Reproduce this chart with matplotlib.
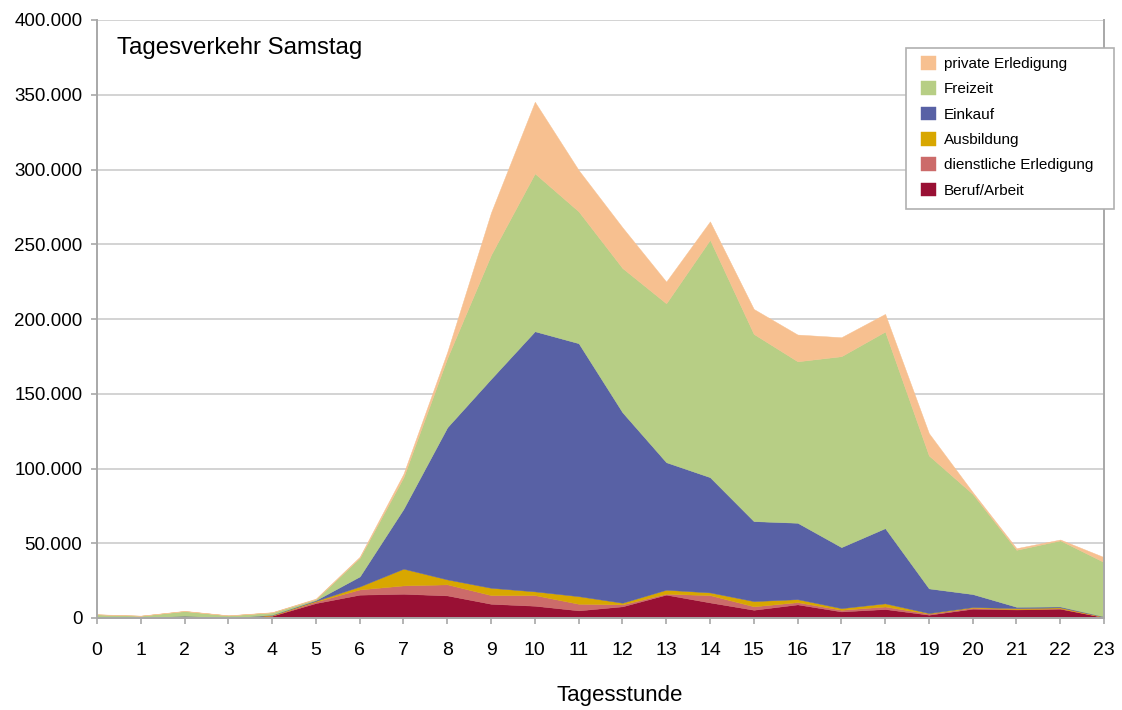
import matplotlib
matplotlib.use("Agg")
import matplotlib.pyplot as plt
from matplotlib.patches import Rectangle
from matplotlib.ticker import FuncFormatter, MultipleLocator

plt.rcParams['font.family'] = ['Liberation Sans', 'DejaVu Sans']

hours = list(range(24))

beruf = [0, 0, 800, 0, 1500, 10000, 15600, 16200, 15100, 9500, 8200, 5100,
         7800, 15600, 10400, 5500, 9100, 4400, 6000, 2200, 6200, 5700, 6200, 500]
dienstlich = [0, 0, 100, 0, 200, 1000, 3500, 5600, 7400, 5800, 7100, 4400,
              1300, 600, 4900, 2300, 1500, 1100, 1700, 700, 700, 200, 300, 200]
ausbildung = [0, 0, 600, 0, 300, 500, 2000, 11200, 3300, 4900, 2500, 5100,
              1100, 2700, 1800, 3500, 2000, 1100, 2100, 400, 400, 700, 600, 200]
einkauf = [0, 0, 0, 0, 200, 500, 6700, 40000, 101800, 139800, 174000, 169200,
           127400, 85300, 77100, 53500, 51100, 40800, 50300, 16500, 8700, 900, 600, 100]
freizeit = [2400, 1500, 3100, 1700, 1500, 600, 12500, 21200, 46400, 83000, 105600, 88200,
            96500, 106300, 158800, 125200, 108000, 127700, 131500, 88900, 67000, 38100, 44200, 36400]
privat = [100, 100, 200, 100, 200, 400, 700, 2300, 4000, 28300, 47900, 27600,
          27200, 14500, 12300, 16700, 17900, 12700, 11800, 14900, 1200, 1100, 600, 3300]

series = [beruf, dienstlich, ausbildung, einkauf, freizeit, privat]
labels = ["Beruf/Arbeit", "dienstliche Erledigung", "Ausbildung",
          "Einkauf", "Freizeit", "private Erledigung"]
colors = ["#991034", "#CC6B6A", "#D8A700", "#5861A5", "#B7CE85", "#F7C090"]

W, H = 1122, 710
fig = plt.figure(figsize=(W / 100, H / 100), dpi=100)
ax = fig.add_axes([97 / W, 1 - 618 / H, (1104 - 97) / W, (618 - 20) / H])

polys = ax.stackplot(hours, *series, labels=labels, colors=colors, linewidth=0)
for p in polys:
    p.set_edgecolor(p.get_facecolor())
    p.set_linewidth(0.3)

ax.set_xlim(0, 23)
ax.set_ylim(0, 400000)
ax.yaxis.set_major_locator(MultipleLocator(50000))
ax.set_xticks(hours)
ax.yaxis.set_major_formatter(FuncFormatter(lambda v, _: f"{int(round(v)):,}".replace(",", ".")))

ax.set_axisbelow(True)
ax.grid(axis='y', color='#C8C8C8', linewidth=1.1)
ax.grid(axis='x', visible=False)

for side in ['left', 'bottom', 'right']:
    ax.spines[side].set_color('#A8A8A8')
    ax.spines[side].set_linewidth(1.4)
ax.spines['top'].set_visible(False)

ax.tick_params(axis='y', length=4.5, width=1.2, color='#A8A8A8', labelsize=13.5, pad=6, labelcolor='black')
ax.tick_params(axis='x', length=4.5, width=1.2, color='#A8A8A8', labelsize=14, pad=12.5, labelcolor='black')

ax.text(117 / W, 1 - 48 / H, "Tagesverkehr Samstag", transform=fig.transFigure,
        fontsize=17.3, ha='left', va='center')

fig.text(620 / W, 1 - 695 / H, "Tagesstunde", fontsize=16, ha='center', va='center')

# legend frame drawn separately so the horizontal and vertical padding can differ
frame = Rectangle((906 / W, 1 - 209 / H), (1114 - 906) / W, (209 - 48) / H,
                  transform=fig.transFigure, facecolor='white', edgecolor='#B0B0B0',
                  linewidth=1.2, clip_on=False, zorder=4.5)
ax.add_patch(frame)

handles, labs = ax.get_legend_handles_labels()
leg = ax.legend(handles[::-1], labs[::-1], loc='upper left',
                bbox_to_anchor=(921 / W, 1 - 56 / H), bbox_transform=fig.transFigure,
                fontsize=11, frameon=False,
                handlelength=1.0, handleheight=1.0, handletextpad=0.52,
                labelspacing=0.67, borderpad=0, borderaxespad=0)
leg.set_zorder(5)

fig.savefig("out.png", dpi=100)
